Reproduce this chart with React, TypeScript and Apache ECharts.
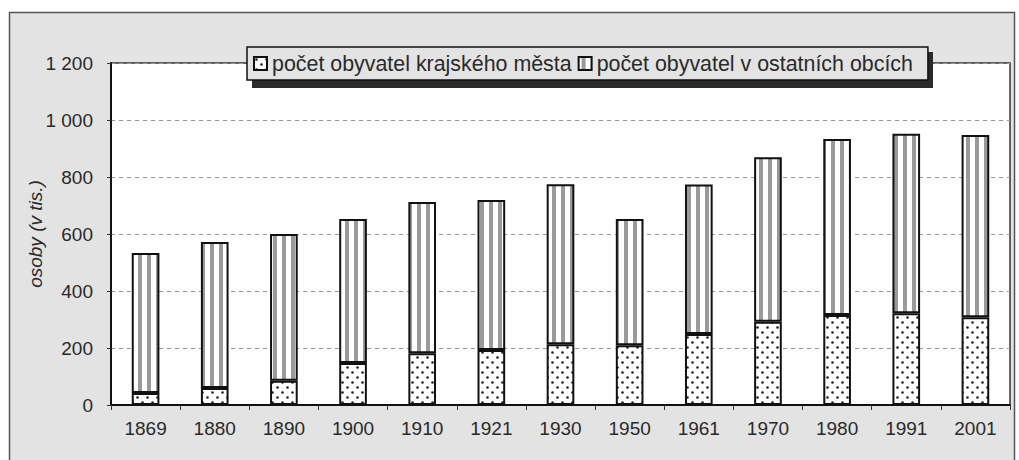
import React, { useEffect, useRef } from "react";
import * as echarts from "echarts";

const years = ["1869", "1880", "1890", "1900", "1910", "1921", "1930", "1950", "1961", "1970", "1980", "1991", "2001"];
const cityPop = [42, 60, 85, 147, 182, 193, 213, 210, 249, 292, 316, 322, 308];
const otherPop = [491, 512, 515, 506, 530, 526, 562, 443, 525, 577, 617, 630, 639];
const yTicks = [0, 200, 400, 600, 800, 1000, 1200];
const seriesNames = ["počet obyvatel krajského města", "počet obyvatel v ostatních obcích"];
const yAxisTitle = "osoby (v tis.)";

function dotPattern(): HTMLCanvasElement {
  const c = document.createElement("canvas");
  c.width = 10;
  c.height = 10;
  const ctx = c.getContext("2d")!;
  ctx.fillStyle = "#ffffff";
  ctx.fillRect(0, 0, 10, 10);
  ctx.fillStyle = "#222222";
  ctx.beginPath();
  ctx.arc(2.5, 2.5, 1.3, 0, Math.PI * 2);
  ctx.fill();
  ctx.beginPath();
  ctx.arc(7.5, 7.5, 1.3, 0, Math.PI * 2);
  ctx.fill();
  return c;
}

function stripePattern(): HTMLCanvasElement {
  const c = document.createElement("canvas");
  c.width = 9;
  c.height = 9;
  const ctx = c.getContext("2d")!;
  ctx.fillStyle = "#ffffff";
  ctx.fillRect(0, 0, 9, 9);
  ctx.fillStyle = "#9a9a9a";
  ctx.fillRect(3, 0, 4, 9);
  return c;
}

const fmt = (v: number) => String(v).replace(/\B(?=(\d{3})+(?!\d))/g, " ");

export default function App() {
  const ref = useRef<HTMLDivElement>(null);
  useEffect(() => {
    document.body.style.margin = "0";
    const chart = echarts.init(ref.current!, undefined, { renderer: "svg" });
    const font = "'Liberation Sans', Arial, sans-serif";
    chart.setOption({
      animation: false,
      backgroundColor: "#ffffff",
      textStyle: { fontFamily: font },
      graphic: [
        {
          type: "rect",
          z: -10,
          silent: true,
          shape: { x: 9.5, y: 12.5, width: 1005, height: 460 },
          style: { fill: "#e3e3e3", stroke: "#555555", lineWidth: 1.5 },
        },
        {
          type: "rect",
          z: 3,
          silent: true,
          shape: { x: 252, y: 52, width: 681, height: 36 },
          style: { fill: "#2a2a2a" },
        },
      ],
      legend: {
        left: 247,
        top: 47,
        z: 4,
        padding: [6, 15, 6, 6],
        itemGap: 6,
        itemWidth: 13,
        itemHeight: 13,
        backgroundColor: "#e3e3e3",
        borderColor: "#111111",
        borderWidth: 1.5,
        icon: "rect",
        textStyle: { fontSize: 21.4, color: "#2a2a2a", fontFamily: font },
        data: seriesNames,
      },
      grid: {
        left: 111,
        right: 9,
        top: 63,
        bottom: 55,
        show: true,
        backgroundColor: "#ffffff",
        borderColor: "#333333",
        borderWidth: 1.5,
      },
      xAxis: {
        type: "category",
        data: years,
        axisLine: { lineStyle: { color: "#111111", width: 2 } },
        axisTick: { show: true, length: 5, lineStyle: { color: "#333333" } },
        axisLabel: { fontSize: 19, color: "#2a2a2a", margin: 14 },
      },
      yAxis: {
        type: "value",
        min: yTicks[0],
        max: yTicks[yTicks.length - 1],
        interval: 200,
        name: yAxisTitle,
        nameLocation: "middle",
        nameGap: 66,
        nameMoveOverlap: false,
        nameTextStyle: { fontSize: 19, fontStyle: "italic", color: "#2a2a2a" },
        axisLine: { show: true, lineStyle: { color: "#111111", width: 2 } },
        axisTick: { show: true, length: 4, lineStyle: { color: "#333333" } },
        axisLabel: { fontSize: 19, color: "#2a2a2a", margin: 18, formatter: (v: number) => fmt(v) },
        splitLine: { show: true, lineStyle: { color: "#9a9a9a", type: [4, 4], width: 1 } },
      },
      series: [
        {
          name: seriesNames[0],
          type: "bar",
          stack: "total",
          barWidth: "40%",
          data: cityPop,
          itemStyle: {
            color: { image: dotPattern(), repeat: "repeat" },
            borderColor: "#111111",
            borderWidth: 2,
          },
        },
        {
          name: seriesNames[1],
          type: "bar",
          stack: "total",
          barWidth: "40%",
          data: otherPop,
          itemStyle: {
            color: { image: stripePattern(), repeat: "repeat" },
            borderColor: "#111111",
            borderWidth: 2,
          },
        },
      ],
    });
    return () => chart.dispose();
  }, []);
  return <div ref={ref} style={{ width: 1019, height: 460 }} />;
}
